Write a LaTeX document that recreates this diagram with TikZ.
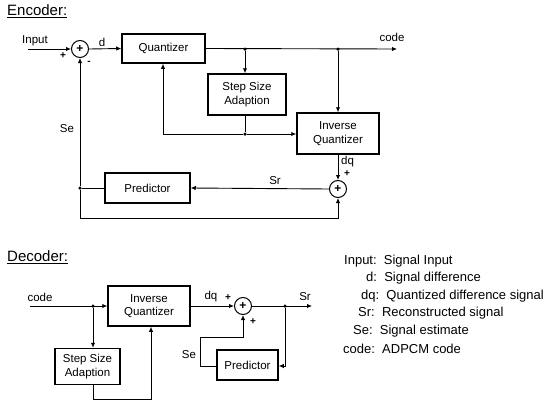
\documentclass[tikz,border=0pt]{standalone}
\usepackage{fontspec}
\setmainfont{Liberation Sans}
\usetikzlibrary{arrows.meta,calc}
\begin{document}
\begin{tikzpicture}[x=1pt,y=-1pt,
  blk/.style={draw,line width=1.5pt,minimum width=#1,inner sep=1pt,align=center,font=\fontsize{11.5}{13.5}\selectfont},
  sumc/.style={draw,circle,line width=1pt,minimum size=17pt,inner sep=0pt,font=\bfseries\fontsize{12}{12}\selectfont},
  con/.style={line width=0.9pt},
  arr/.style={con,-{Latex[length=5pt,width=4.5pt]}},
  lbl/.style={inner sep=0pt,font=\fontsize{11.5}{13}\selectfont},
  sgn/.style={inner sep=0pt,font=\bfseries\fontsize{10}{10}\selectfont},
  ttl/.style={inner sep=0pt,anchor=west,font=\fontsize{15}{17}\selectfont},
  leg/.style={inner sep=0pt,anchor=west,font=\fontsize{13}{15}\selectfont},
  dot/.style={circle,fill,inner sep=0pt,minimum size=3.5pt}]
\useasboundingbox (0,0) rectangle (550,410);

% ---------------- Encoder ----------------
\node[ttl] (enctitle) at (7,11) {\underline{Encoder:}};
\node[sumc] (es) at (80,49) {+};
\node[blk=83pt,minimum height=29pt] (quant) at (163.5,48.5) {Quantizer};
\node[blk=78pt,minimum height=41pt] (ssa) at (247,94.5) {Step Size\\Adaption};
\node[blk=82pt,minimum height=41pt] (invq) at (338,133.5) {Inverse\\Quantizer};
\node[sumc] (s2) at (338,189) {+};
\node[blk=85pt,minimum height=30pt] (pred) at (147.5,188) {Predictor};

\coordinate (inp) at (28,49);
\coordinate (code) at (397,49);
\node[dot] (js) at (245,49) {};
\node[dot] (jq) at (338,49) {};
\node[dot] (jb) at (245,134) {};
\coordinate (jbl) at (163,134);
\node[dot] (jp) at (80,188) {};
\coordinate (jbot1) at (80,218);
\coordinate (jbot2) at (338,218);

\draw[arr] (inp) -- (es.west);
\draw[arr] (es.east) -- (quant.west);
\draw[arr] (quant.east) -- (code);
\draw[arr] (js) -- (ssa.north -| js);
\draw[arr] (jq) -- (invq.north);
\draw[con] (ssa.south -| jb) -- (jb);
\draw[arr] (jb) -- (jbl) -- (quant.south -| jbl);
\draw[arr] (jb) -- (invq.west |- jb);
\draw[arr] (invq.south) -- (s2.north);
\draw[arr] (s2.west) -- (pred.east);
\draw[con] (pred.west) -- (jp);
\draw[arr] (jp) -- (es.south);
\draw[arr] (jp) -- (jbot1) -- (jbot2) -- (s2.south);

\node[lbl,anchor=south west] (linput) at (22,46) {Input};
\node[lbl] (ld) at (102,42) {d};
\node[lbl] (lcode) at (392,37) {code};
\node[lbl,anchor=west] (ldq) at (341,162) {dq};
\node[lbl] (lsr) at (275,181) {Sr};
\node[lbl] (lse) at (67,129) {Se};
\node[sgn] (p1) at (63,56) {+};
\node[sgn] (m1) at (89,63) {-};
\node[sgn] (p2) at (347,174) {+};

% ---------------- Decoder ----------------
\node[ttl] (dectitle) at (7,257) {\underline{Decoder:}};
\node[blk=82pt,minimum height=40pt] (dinvq) at (149,306) {Inverse\\Quantizer};
\node[blk=65pt,minimum height=36pt] (dssa) at (87.5,366.5) {Step Size\\Adaption};
\node[sumc] (ds) at (243,306) {+};
\node[blk=61pt,minimum height=30pt] (dpred) at (247.5,365) {Predictor};

\coordinate (dcode) at (30,306);
\node[dot] (dj) at (93,306) {};
\coordinate (db1) at (93,399);
\coordinate (db2) at (151,399);
\coordinate (dout) at (312,306);
\node[dot] (dsr) at (285,306) {};
\coordinate (dpr) at (285,366);
\coordinate (dse1) at (200,366);
\coordinate (dse2) at (200,337);
\coordinate (dse3) at (243,337);

\draw[arr] (dcode) -- (dinvq.west);
\draw[arr] (dj) -- (dssa.north -| dj);
\draw[arr] (dssa.south -| dj) -- (db1) -- (db2) -- (dinvq.south -| db2);
\draw[arr] (dinvq.east) -- (ds.west);
\draw[arr] (ds.east) -- (dout);
\draw[arr] (dsr) -- (dpr) -- (dpred.east |- dpr);
\draw[arr] (dpred.west |- dse1) -- (dse1) -- (dse2) -- (dse3) -- (ds.south);

\node[lbl] (dlcode) at (40,297) {code};
\node[lbl] (dldq) at (211,297) {dq};
\node[lbl] (dlsr) at (305,297) {Sr};
\node[lbl] (dlse) at (189,355) {Se};
\node[sgn] (dp1) at (228,298) {+};
\node[sgn] (dp2) at (253,322) {+};

% ---------------- Legend ----------------
\node[leg] (g1) at (344,261) {Input:\ \ Signal Input};
\node[leg] (g2) at (366,278.5) {d:\ \ Signal difference};
\node[leg] (g3) at (361,296) {dq:\ \ Quantized difference signal};
\node[leg] (g4) at (358,313.5) {Sr:\ \ Reconstructed signal};
\node[leg] (g5) at (353,331) {Se:\ \ Signal estimate};
\node[leg] (g6) at (343,348.5) {code:\ \ ADPCM code};
\end{tikzpicture}
\end{document}
